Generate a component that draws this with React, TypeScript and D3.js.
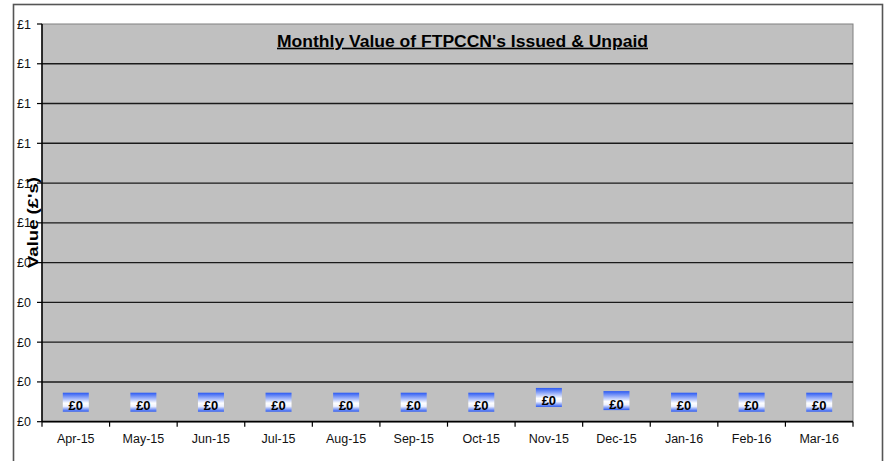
import React from "react";
import * as d3 from "d3";

// chart data
const months = ["Apr-15", "May-15", "Jun-15", "Jul-15", "Aug-15", "Sep-15", "Oct-15", "Nov-15", "Dec-15", "Jan-16", "Feb-16", "Mar-16"];
const unpaidValues = [0, 0, 0, 0, 0, 0, 0, 0.012, 0.004, 0, 0, 0];
const yTicks = [0, 0.1, 0.2, 0.3, 0.4, 0.5, 0.6, 0.7, 0.8, 0.9, 1];
const yTickLabels = ["£0", "£0", "£0", "£0", "£0", "£1", "£1", "£1", "£1", "£1", "£1"];
const valueLabels = ["£0", "£0", "£0", "£0", "£0", "£0", "£0", "£0", "£0", "£0", "£0", "£0"];

const title = "Monthly Value of FTPCCN's Issued & Unpaid";
const yTitle = "Value (£'s)";

export default function App() {
  const width = 888;
  const height = 461;
  const plot = { left: 42, right: 853, top: 24, bottom: 421.7 };
  const font = "Arial, 'Liberation Sans', sans-serif";

  const x = d3.scaleBand().domain(months).range([plot.left, plot.right]).padding(0);
  const y = d3.scaleLinear().domain([0, 1]).range([plot.bottom, plot.top]);

  const bandEdges = months.map((m) => x(m)).concat([plot.right]);

  return (
    <svg
      width={width}
      height={height}
      style={{ position: "absolute", left: 0, top: 0, background: "#fff" }}
      fontFamily={font}
    >
      <defs>
        <linearGradient id="lblGrad" x1="0" y1="0" x2="0" y2="1">
          <stop offset="0" stopColor="#2b59f2" />
          <stop offset="0.55" stopColor="#ffffff" />
          <stop offset="0.72" stopColor="#eef1ff" />
          <stop offset="1" stopColor="#2b59f2" />
        </linearGradient>
      </defs>

      {/* chart area border */}
      <rect x={13.5} y={4.5} width={869} height={480} fill="#fff" stroke="#555" strokeWidth={1.6} />

      {/* plot area */}
      <rect
        x={plot.left}
        y={plot.top}
        width={plot.right - plot.left}
        height={plot.bottom - plot.top}
        fill="#c0c0c0"
        stroke="#808080"
        strokeWidth={1}
      />

      {/* gridlines */}
      {yTicks.slice(1, -1).map((t) => (
        <line key={t} x1={plot.left} x2={plot.right} y1={y(t)} y2={y(t)} stroke="#1a1a1a" strokeWidth={1.4} />
      ))}

      {/* bars (no fill in source) */}
      {months.map((m, i) => (
        <rect
          key={m}
          x={x(m)! + x.bandwidth() * 0.3}
          width={x.bandwidth() * 0.4}
          y={y(unpaidValues[i])}
          height={plot.bottom - y(unpaidValues[i])}
          fill="none"
        />
      ))}

      {/* y axis */}
      <line x1={plot.left} x2={plot.left} y1={plot.top} y2={plot.bottom} stroke="#000" strokeWidth={1.5} />
      {yTicks.map((t, i) => (
        <g key={t}>
          <line x1={plot.left - 5} x2={plot.left} y1={y(t)} y2={y(t)} stroke="#000" strokeWidth={1.2} />
          <text x={31} y={y(t) + 4.5} fontSize={12.5} textAnchor="end" fill="#111">
            {yTickLabels[i]}
          </text>
        </g>
      ))}

      {/* x axis */}
      <line x1={plot.left} x2={plot.right} y1={plot.bottom} y2={plot.bottom} stroke="#000" strokeWidth={1.8} />
      {bandEdges.map((e, i) => (
        <line key={i} x1={e} x2={e} y1={plot.bottom} y2={plot.bottom + 5} stroke="#000" strokeWidth={1.2} />
      ))}
      {months.map((m) => (
        <text key={m} x={x(m)! + x.bandwidth() / 2} y={442.5} fontSize={12.5} textAnchor="middle" fill="#111">
          {m}
        </text>
      ))}

      {/* data labels */}
      {months.map((m, i) => {
        const cx = x(m)! + x.bandwidth() / 2;
        const y0 = y(unpaidValues[i]);
        return (
          <g key={m}>
            <rect x={cx - 13} y={y0 - 29} width={26} height={19} fill="url(#lblGrad)" />
            <text x={cx} y={y0 - 11.5} fontSize={13} fontWeight="bold" textAnchor="middle" fill="#000">
              {valueLabels[i]}
            </text>
          </g>
        );
      })}

      {/* titles */}
      <text
        x={462.5}
        y={46.7}
        fontSize={16}
        fontWeight="bold"
        textAnchor="middle"
        textDecoration="underline"
        textLength={371}
        lengthAdjust="spacingAndGlyphs"
        fill="#000"
      >
        {title}
      </text>
      <text
        transform="translate(37.5, 222.5) rotate(-90)"
        fontSize={14}
        fontWeight="bold"
        textAnchor="middle"
        textLength={91}
        lengthAdjust="spacingAndGlyphs"
        fill="#000"
      >
        {yTitle}
      </text>
    </svg>
  );
}
